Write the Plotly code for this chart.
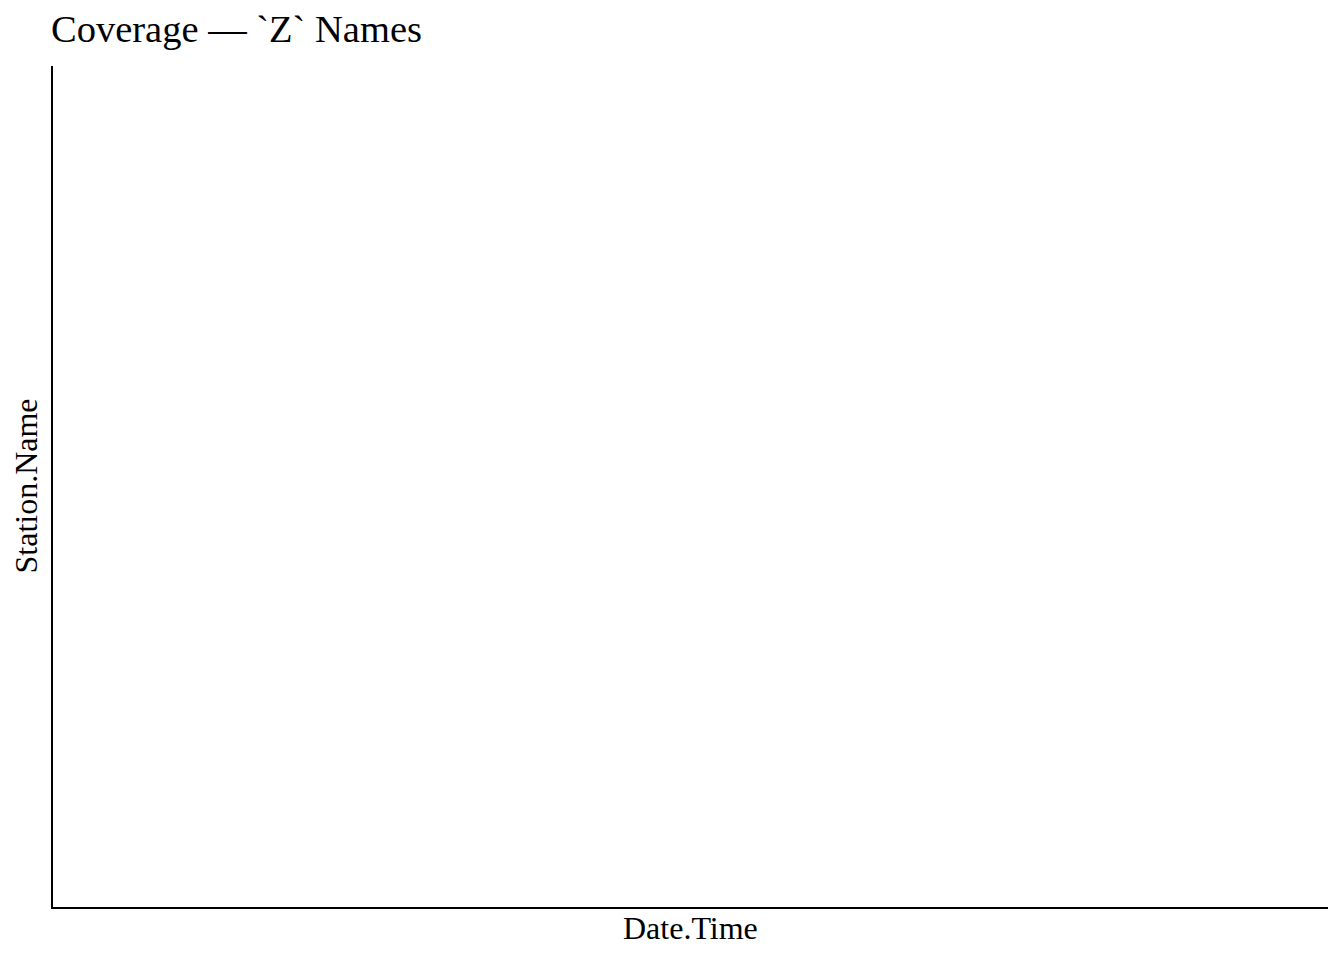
import plotly.graph_objects as go

# The reference chart has no data: empty station / time series
stations = []
date_times = []

title_text = "Coverage \u2014 `Z` Names"
x_label = "Date.Time"
y_label = "Station.Name"

FONT = "Liberation Serif, Times New Roman, serif"

fig = go.Figure()
fig.add_trace(go.Scatter(x=date_times, y=stations, mode="markers",
                         marker=dict(color="black"), showlegend=False))

fig.update_layout(
    width=1344, height=960,
    margin=dict(l=53, r=16, t=66, b=53),
    paper_bgcolor="white", plot_bgcolor="white",
    font=dict(family=FONT, color="black"),
    showlegend=False,
)
axis_common = dict(showline=True, linecolor="black", linewidth=2,
                   showgrid=False, zeroline=False, showticklabels=False,
                   ticks="", mirror=False)
fig.update_xaxes(**axis_common)
fig.update_yaxes(**axis_common)

fig.add_annotation(text=title_text, xref="paper", yref="paper", x=0, y=1,
                   xanchor="left", yanchor="bottom", yshift=14, xshift=-4,
                   showarrow=False,
                   font=dict(family=FONT, size=38.5, color="black"))
fig.add_annotation(text=x_label, xref="paper", yref="paper", x=0.5, y=0,
                   xanchor="center", yanchor="top", yshift=-1, showarrow=False,
                   font=dict(family=FONT, size=32, color="black"))
fig.add_annotation(text=y_label, xref="paper", yref="paper", x=0, y=0.5,
                   xanchor="right", yanchor="middle", xshift=-8, textangle=-90,
                   showarrow=False, font=dict(family=FONT, size=32, color="black"))

fig.write_html("out.html")
